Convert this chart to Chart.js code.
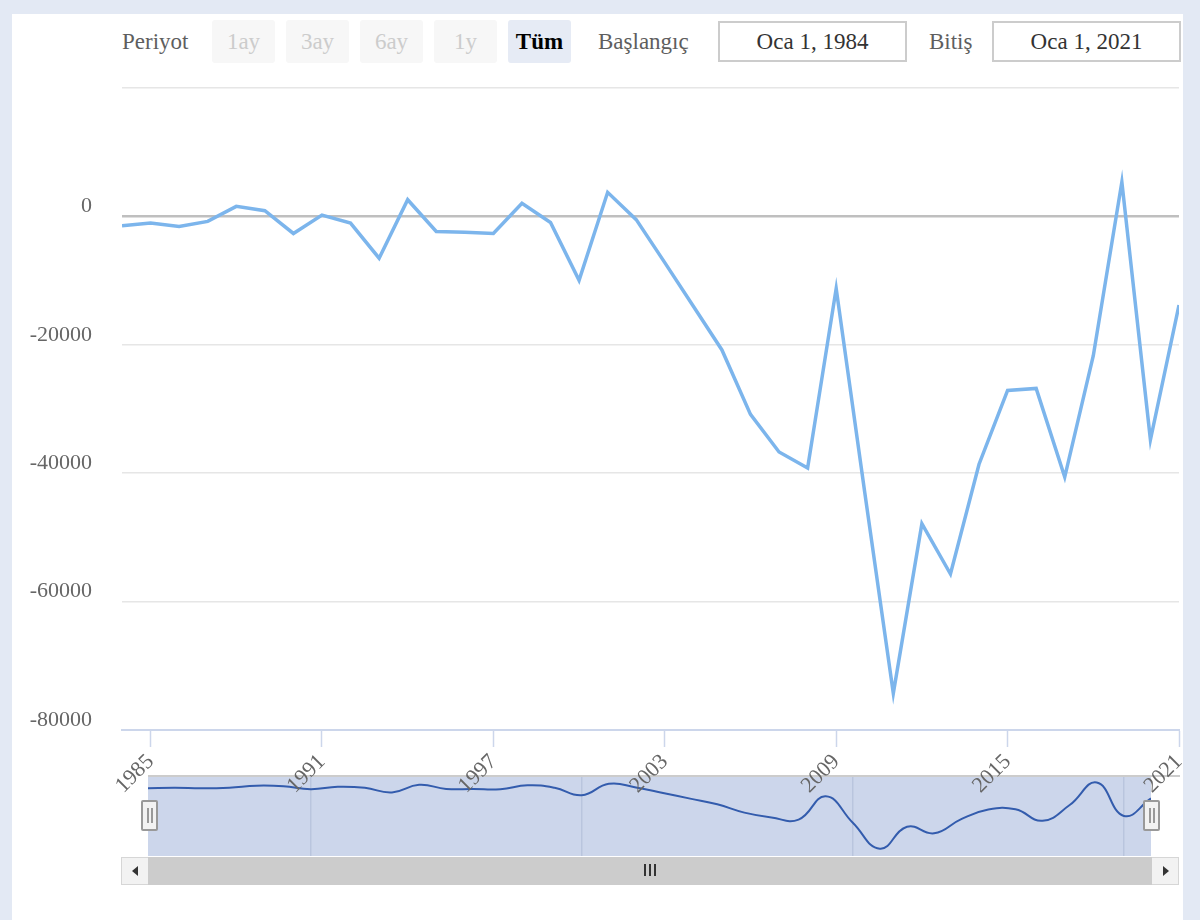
<!DOCTYPE html>
<html>
<head>
<meta charset="utf-8">
<script src="https://cdn.jsdelivr.net/npm/chart.js@4.4.1/dist/chart.umd.min.js"></script>
<style>
  body { margin: 0; width: 1200px; height: 920px; overflow: hidden; background: #e3e9f4; font-family: 'Liberation Serif', serif; position: relative; }
  #panel { position: absolute; left: 12px; top: 14px; width: 1171px; height: 906px; background: #fff; }
  .lbl { position: absolute; top: 20px; height: 43px; line-height: 43px; font-size: 23px; color: #5e5e5e; }
  .btn { position: absolute; top: 20px; width: 63px; height: 43px; line-height: 43px; border-radius: 3px; background: #f7f7f7; color: #cccccc; font-size: 23px; text-align: center; }
  .btn.on { background: #e6ebf5; color: #000; font-weight: bold; }
  .box { position: absolute; top: 21px; width: 189px; height: 41px; line-height: 37px; box-sizing: border-box; border: 2px solid #cccccc; text-align: center; font-size: 23px; color: #333; }
  #nav { position: absolute; left: 148px; top: 777px; background: #ccd6eb; }
  #navline { position: absolute; left: 148px; top: 775px; width: 1032px; height: 2px; background: #cccccc; }
  #scroll { position: absolute; left: 121px; top: 857px; width: 1058px; height: 28px; background: #f2f2f2; box-sizing: border-box; border: 1px solid #d6d6d6; }
  #bar { position: absolute; left: 148px; top: 857px; width: 1004px; height: 28px; background: #cccccc; }
  .arrow { position: absolute; top: 866px; width: 0; height: 0; border-top: 5px solid transparent; border-bottom: 5px solid transparent; }
  .grip { position: absolute; top: 864px; width: 2px; height: 12px; background: #333; }
  .handle { position: absolute; top: 800px; width: 17px; height: 31px; box-sizing: border-box; background: #f2f2f2; border: 2px solid #999; border-radius: 2px; }
  .handle i { position: absolute; top: 6px; width: 2px; height: 15px; background: #999; }
  #main { position: absolute; left: 0; top: 0; z-index: 10; pointer-events: none; }
</style>
</head>
<body>
<div id="panel"></div>

<div class="lbl" style="left:122px;">Periyot</div>
<div class="btn" style="left:212px;">1ay</div>
<div class="btn" style="left:286px;">3ay</div>
<div class="btn" style="left:360px;">6ay</div>
<div class="btn" style="left:434px;">1y</div>
<div class="btn on" style="left:508px;">Tüm</div>
<div class="lbl" style="left:598px;">Başlangıç</div>
<div class="box" style="left:718px;">Oca 1, 1984</div>
<div class="lbl" style="left:929px;">Bitiş</div>
<div class="box" style="left:992px;">Oca 1, 2021</div>

<canvas id="nav" width="1003" height="79"></canvas>
<div id="navline"></div>
<div id="scroll"></div>
<div id="bar"></div>
<div class="arrow" style="left:132px; border-right:6px solid #333;"></div>
<div class="arrow" style="left:1163px; border-left:6px solid #333;"></div>
<div class="grip" style="left:644px;"></div>
<div class="grip" style="left:649px;"></div>
<div class="grip" style="left:654px;"></div>
<div class="handle" style="left:141px;"><i style="left:4px;"></i><i style="left:8px;"></i></div>
<div class="handle" style="left:1143px;"><i style="left:4px;"></i><i style="left:8px;"></i></div>

<canvas id="main" width="1200" height="920"></canvas>

<script>
// yearly values
var years = [1984, 1985, 1986, 1987, 1988, 1989, 1990, 1991, 1992, 1993,
             1994, 1995, 1996, 1997, 1998, 1999, 2000, 2001, 2002, 2003,
             2004, 2005, 2006, 2007, 2008, 2009, 2010, 2011, 2012, 2013,
             2014, 2015, 2016, 2017, 2018, 2019, 2020, 2021];
var values = [-1460, -1040, -1560, -780, 1560, 890, -2660, 210, -1040, -6510,
              2600, -2340, -2450, -2660, 2030, -940, -9950, 3750, -500, -7200,
              -14000, -20800, -30840, -36700, -39200, -11240, -43000, -74300, -47850, -55700,
              -38600, -27100, -26800, -40600, -21700, 5360, -34800, -13800];
var xTicks = [1985, 1991, 1997, 2003, 2009, 2015, 2021];
var yTicks = [-80000, -60000, -40000, -20000, 0, 20000];
var navTicks = [1990, 2000, 2010, 2020];
var navTickLabels = ['1990', '2000', '2010', '20…'];

Chart.defaults.font.family = "'Liberation Serif', serif";
Chart.defaults.animation = false;

var points = years.map(function (y, i) { return { x: y, y: values[i] }; });

// ***** main chart *****
new Chart(document.getElementById('main'), {
    type: 'line',
    data: {
        datasets: [{
            data: points,
            borderColor: '#7cb5ec',
            borderWidth: 3.5,
            pointRadius: 0,
            tension: 0
        }]
    },
    options: {
        responsive: false,
        layout: { padding: { top: 88, right: 21, left: 0, bottom: 0 } },
        plugins: { legend: { display: false }, tooltip: { enabled: false } },
        scales: {
            x: {
                type: 'linear',
                min: 1984,
                max: 2021,
                afterBuildTicks: function (s) { s.ticks = xTicks.map(function (v) { return { value: v }; }); },
                afterFit: function (s) { s.height = 190; },
                border: { color: '#ccd6eb', width: 2 },
                grid: { drawOnChartArea: false, tickLength: 17, tickColor: '#ccd6eb', tickWidth: 1.5 },
                ticks: {
                    autoSkip: false,
                    minRotation: 45,
                    maxRotation: 45,
                    padding: 2,
                    color: '#666',
                    font: { size: 22 },
                    callback: function (v) { return String(v); }
                }
            },
            y: {
                min: -80000,
                max: 20000,
                afterBuildTicks: function (s) { s.ticks = yTicks.map(function (v) { return { value: v }; }); },
                afterFit: function (s) { s.width = 122; },
                border: { display: false },
                grid: {
                    drawTicks: false,
                    color: function (c) { return c.tick && c.tick.value === 0 ? '#bfbfbf' : '#e6e6e6'; },
                    lineWidth: function (c) { return c.tick && c.tick.value === 0 ? 2.5 : 1.5; }
                },
                ticks: {
                    padding: 30,
                    labelOffset: -10,
                    color: '#666',
                    font: { size: 22 },
                    callback: function (v) { return v === 20000 ? '' : String(v); }
                }
            }
        }
    }
});

// ***** navigator *****
new Chart(document.getElementById('nav'), {
    type: 'line',
    data: {
        datasets: [{
            data: points,
            borderColor: '#335cad',
            borderWidth: 2,
            pointRadius: 0,
            tension: 0.45
        }]
    },
    options: {
        responsive: false,
        layout: { padding: 0 },
        plugins: { legend: { display: false }, tooltip: { enabled: false } },
        scales: {
            x: {
                type: 'linear',
                min: 1984,
                max: 2021,
                afterBuildTicks: function (s) { s.ticks = navTicks.map(function (v) { return { value: v }; }); },
                afterFit: function (s) { s.height = 0; },
                border: { display: false },
                grid: { drawTicks: false, color: '#b9c5de', lineWidth: 1.5 },
                ticks: {
                    autoSkip: false,
                    maxRotation: 0,
                    align: 'start',
                    labelOffset: 5,
                    padding: -27,
                    color: '#999',
                    font: { size: 21 },
                    callback: function (v) { return navTickLabels[navTicks.indexOf(v)]; }
                }
            },
            y: { display: false, min: -83000, max: 12000 }
        }
    }
});
</script>
</body>
</html>
